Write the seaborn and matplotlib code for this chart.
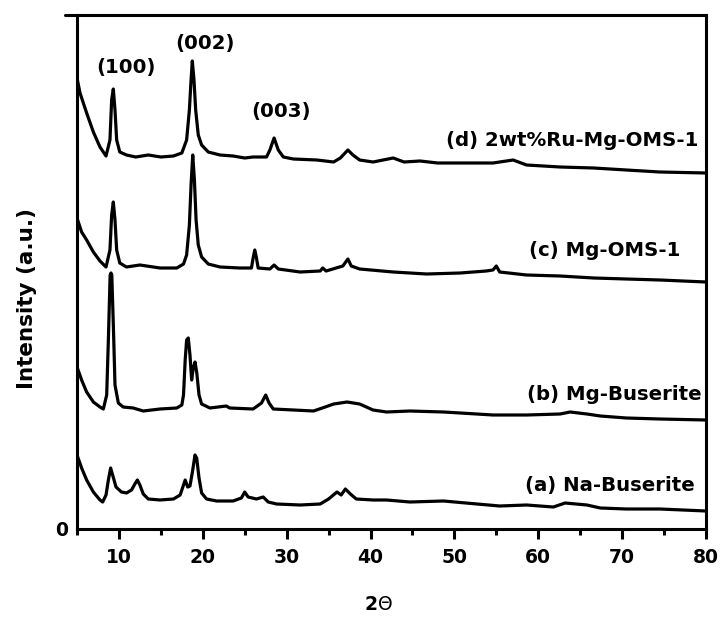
import matplotlib
matplotlib.use("Agg")
import matplotlib.pyplot as plt
from matplotlib.lines import Line2D
from matplotlib.ticker import MultipleLocator, FixedLocator
import numpy as np
import pandas as pd
import seaborn as sns

# XRD patterns, stacked with a vertical offset (intensity in a.u.)
theta_d = [5.0, 5.36, 6.15, 6.95, 7.74, 8.46, 8.93, 9.13, 9.33, 9.53, 9.73, 10.1, 10.9, 12.0,
           13.5, 15.0, 16.5, 17.5, 18.07, 18.4, 18.6, 18.75, 18.95, 19.15, 19.46, 19.86, 20.65,
           22.05, 23.6, 25.0, 26.0, 27.6, 28.0, 28.5, 29.0, 29.6, 30.8, 33.6, 35.6, 36.4, 37.3,
           37.9, 38.7, 40.3, 42.7, 44.0, 45.9, 48.0, 50.7, 54.6, 57.0, 58.6, 62.6, 66.6, 70.5,
           74.5, 80.0]
int_d = [451, 436, 416, 397, 382, 373, 389, 429, 440, 419, 389, 377, 374, 372,
         374, 372, 373, 376, 389, 419, 449, 468, 449, 419, 394, 384, 377,
         374, 373, 371, 372, 372, 379, 391, 379, 372, 370, 369, 367, 371, 379,
         374, 369, 367, 371, 367, 368, 366, 366, 366, 369, 364, 362, 361, 359,
         357, 356]

theta_c = [5.0, 5.55, 6.15, 6.95, 7.74, 8.46, 8.93, 9.13, 9.33, 9.53, 9.73, 10.1, 10.9, 12.5,
           14.9, 16.9, 17.7, 18.07, 18.4, 18.6, 18.8, 19.0, 19.2, 19.46, 19.86, 20.65, 22.05,
           24.4, 25.8, 26.0, 26.2, 26.4, 26.6, 28.0, 28.5, 29.0, 31.6, 34.0, 34.3, 34.7, 36.7,
           37.3, 37.7, 38.7, 42.7, 46.7, 50.7, 53.8, 54.6, 55.0, 55.4, 58.6, 62.6, 66.6, 70.5,
           74.5, 80.0]
int_c = [311, 297, 289, 277, 268, 262, 279, 314, 327, 309, 279, 266, 262, 264,
         261, 261, 265, 274, 304, 344, 374, 349, 309, 284, 272, 265, 262,
         261, 261, 271, 279, 271, 261, 260, 264, 260, 257, 258, 261, 258, 263,
         270, 263, 260, 257, 255, 256, 258, 259, 263, 257, 254, 253, 251, 250,
         249, 247]

theta_b = [5.0, 5.55, 6.15, 6.95, 7.74, 8.14, 8.54, 8.74, 8.95, 9.05, 9.15, 9.35, 9.53, 9.93,
           10.5, 11.7, 12.9, 14.9, 16.9, 17.5, 17.7, 17.9, 18.07, 18.27, 18.47, 18.67, 18.86,
           19.07, 19.27, 19.55, 19.86, 20.85, 22.8, 23.2, 26.0, 27.0, 27.5, 27.9, 28.4, 30.8,
           33.2, 34.6, 35.6, 37.2, 38.7, 40.3, 41.9, 44.7, 48.7, 50.7, 54.6, 58.6, 62.6, 63.8,
           65.8, 67.4, 70.5, 74.5, 80.0]
int_b = [162, 149, 137, 127, 122, 120, 134, 189, 254, 256, 254, 199, 144, 126,
         122, 121, 118, 120, 121, 124, 134, 169, 189, 191, 174, 149, 161,
         167, 157, 134, 125, 121, 123, 121, 120, 126, 134, 126, 120, 119,
         118, 122, 125, 127, 125, 119, 117, 118, 117, 116, 114, 114, 115, 117,
         115, 113, 111, 110, 109]

theta_a = [5.0, 5.55, 6.15, 6.95, 7.74, 8.06, 8.46, 8.74, 9.01, 9.25, 9.65, 10.3, 10.9, 11.5,
           11.9, 12.2, 12.5, 12.9, 13.5, 14.9, 16.5, 17.3, 17.7, 17.9, 18.2, 18.47, 18.8, 19.07,
           19.27, 19.55, 19.86, 20.45, 21.65, 23.6, 24.6, 25.0, 25.4, 26.4, 27.2, 27.8, 28.8,
           31.6, 34.0, 35.0, 36.0, 36.5, 37.0, 37.6, 38.3, 40.3, 41.9, 44.7, 48.7, 52.7, 55.4,
           58.6, 61.8, 63.2, 65.8, 67.4, 70.5, 74.5, 80.0]
int_a = [74, 61, 49, 37, 29, 27, 34, 49, 61, 54, 42, 37, 36, 39,
         45, 49, 44, 35, 30, 29, 30, 34, 44, 49, 42, 43, 59, 74,
         71, 51, 36, 30, 28, 28, 31, 37, 32, 30, 32, 27, 25,
         24, 25, 30, 37, 34, 40, 35, 30, 29, 29, 27, 28, 25, 23,
         24, 22, 26, 24, 21, 20, 20, 18]

samples = ["(a) Na-Buserite", "(b) Mg-Buserite", "(c) Mg-OMS-1", "(d) 2wt%Ru-Mg-OMS-1"]
sample_theta = [theta_a, theta_b, theta_c, theta_d]
sample_int = [int_a, int_b, int_c, int_d]

# label anchors (right edge x, centre y) for each pattern
sample_label_x = [78.7, 79.5, 76.9, 79.05]
sample_label_y = [44, 134, 279, 389]

# reflection indices above the Ru-Mg-OMS-1 pattern
hkl_labels = ["(100)", "(002)", "(003)"]
hkl_x = [10.84, 20.26, 29.32]
hkl_y = [461, 486, 417]

x_ticks = [10, 20, 30, 40, 50, 60, 70, 80]

frames = []
for name, th, it in zip(samples, sample_theta, sample_int):
    frames.append(pd.DataFrame({"2theta": th, "intensity": it, "sample": name}))
df = pd.concat(frames, ignore_index=True)

sns.set_theme(style="ticks")
plt.rcParams["font.family"] = ["DejaVu Sans"]
plt.rcParams["mathtext.fontset"] = "dejavusans"

W, H = 720, 617
fig = plt.figure(figsize=(W / 100, H / 100), dpi=100)
ax = fig.add_axes([77 / W, 1 - 529 / H, 629 / W, 514 / H])

sns.lineplot(data=df, x="2theta", y="intensity", units="sample", estimator=None,
             color="black", linewidth=2.3, sort=False, ax=ax)
for line in ax.get_lines():
    line.set_solid_joinstyle("round")
    line.set_solid_capstyle("round")

ax.set_xlim(5, 80)
ax.set_ylim(0, 514)

ax.xaxis.set_major_locator(FixedLocator(x_ticks))
ax.xaxis.set_minor_locator(MultipleLocator(5))
ax.yaxis.set_major_locator(FixedLocator([0]))
ax.set_xticklabels([str(t) for t in x_ticks])
ax.set_yticklabels(["0"])

for s in ax.spines.values():
    s.set_linewidth(2.2)
    s.set_color("black")
ax.add_line(Line2D([-0.019, 0.0], [1.0, 1.0], transform=ax.transAxes, color="black",
                   linewidth=2.2, clip_on=False))

ax.tick_params(axis="x", which="major", direction="out", length=7, width=2.2,
               pad=6.5, labelsize=13.5, colors="black")
ax.tick_params(axis="x", which="minor", direction="out", length=4, width=2.2, colors="black")
ax.tick_params(axis="y", which="major", length=0, pad=6.5, labelsize=13.5, colors="black")
for lab in ax.get_xticklabels() + ax.get_yticklabels():
    lab.set_fontweight("bold")

ax.set_xlabel(r"$\mathbf{2}\Theta$", fontsize=13.5, color="black")
ax.xaxis.label.set_va("center")
ax.xaxis.set_label_coords((378 - 77) / 629, (529 - 604) / 514)
ax.set_ylabel("Intensity (a.u.)", fontsize=15.5, fontweight="bold", color="black")
ax.yaxis.set_label_coords(-0.064, 0.448)

for name, lx, ly in zip(samples, sample_label_x, sample_label_y):
    ax.text(lx, ly, name, ha="right", va="center", fontsize=14.2, fontweight="bold",
            color="black")
for name, lx, ly in zip(hkl_labels, hkl_x, hkl_y):
    ax.text(lx, ly, name, ha="center", va="center", fontsize=14.2, fontweight="bold",
            color="black")

fig.savefig("out.png", dpi=100, facecolor="white")
